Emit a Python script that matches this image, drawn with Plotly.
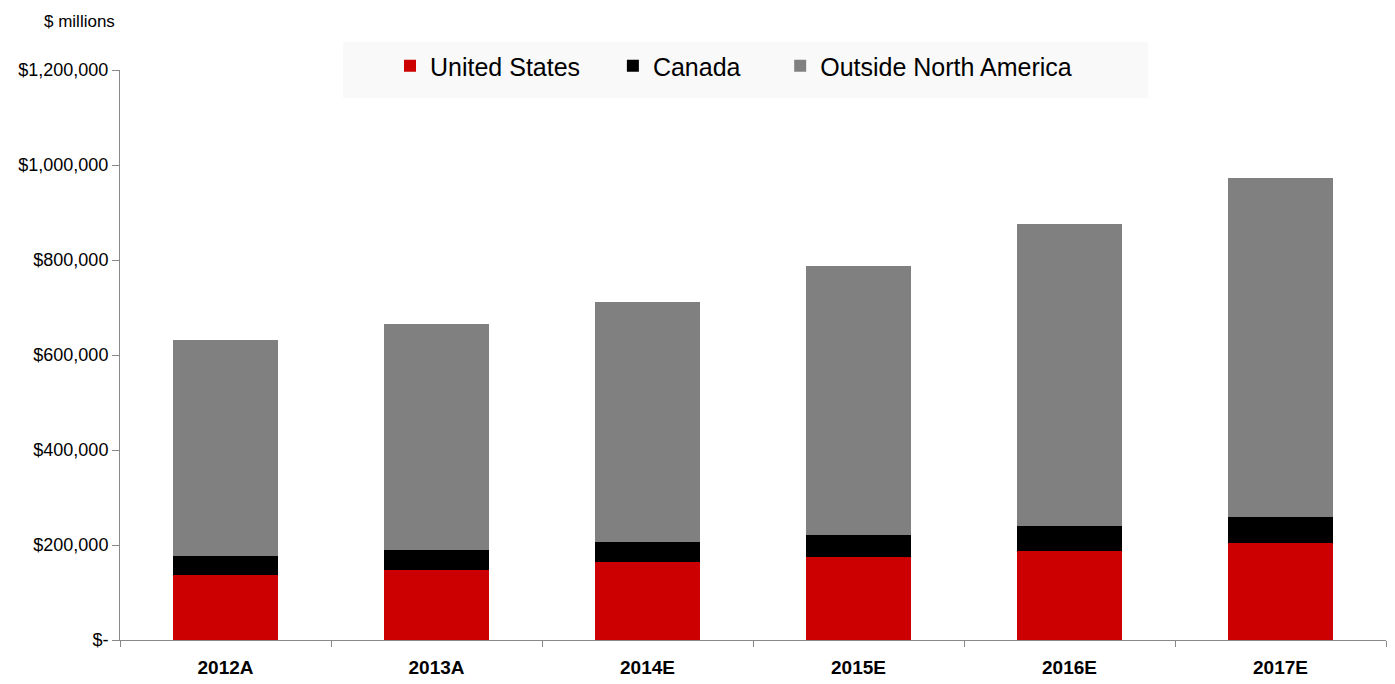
import plotly.graph_objects as go

categories = ["2012A", "2013A", "2014E", "2015E", "2016E", "2017E"]
united_states = [137000, 147000, 165000, 174000, 187000, 204000]
canada = [40000, 42000, 41000, 48000, 53000, 55000]
outside_na = [455000, 477000, 505000, 565000, 636000, 714000]
y_tickvals = [0, 200000, 400000, 600000, 800000, 1000000, 1200000]
y_ticktext = ["$-", "$200,000", "$400,000", "$600,000", "$800,000", "$1,000,000", "$1,200,000"]

# page body has an 8px margin, so the figure is placed at (8, 8) in the window
OFF = 8
W, H = 1395 - OFF, 684 - OFF
L, T = 120 - OFF, 70 - OFF
R = W - (1386 - OFF)
B = H - (640 - OFF)
PW, PH = W - L - R, H - T - B


def px_x(p):
    return (p - OFF - L) / PW


def px_y(p):
    return (H - B - (p - OFF)) / PH


fig = go.Figure()
fig.add_trace(go.Bar(x=categories, y=united_states, name="United States    ", marker=dict(color="#cc0000", line=dict(width=0))))
fig.add_trace(go.Bar(x=categories, y=canada, name="Canada     ", marker=dict(color="#000000", line=dict(width=0))))
fig.add_trace(go.Bar(x=categories, y=outside_na, name="Outside North America", marker=dict(color="#808080", line=dict(width=0))))

fig.update_layout(
    barmode="stack",
    bargap=0.5,
    width=W, height=H,
    margin=dict(l=L, r=R, t=T, b=B, autoexpand=False),
    paper_bgcolor="white", plot_bgcolor="white",
    font=dict(family="Liberation Sans, Arial, sans-serif", color="#000000", size=16),
    showlegend=True,
    legend=dict(
        orientation="h", x=px_x(390), xanchor="left", y=px_y(66), yanchor="middle",
        bgcolor="rgba(0,0,0,0)", font=dict(size=25), traceorder="normal",
        itemwidth=30,
    ),
    shapes=[dict(type="rect", xref="paper", yref="paper",
                 x0=px_x(343), x1=px_x(1148), y0=px_y(98), y1=px_y(42),
                 fillcolor="#f9f9f9", line=dict(width=0), layer="below")],
    annotations=[dict(text="$ millions", xref="paper", yref="paper", x=px_x(79), y=px_y(22),
                      xanchor="center", yanchor="middle", showarrow=False, font=dict(size=17))],
)
fig.update_xaxes(
    showline=True, linecolor="#888888", linewidth=1,
    ticks="outside", tickson="boundaries", ticklen=6, tickcolor="#888888",
    tickfont=dict(size=19, family="Liberation Sans, Arial, sans-serif"),
    tickprefix="<b>", ticksuffix="</b>", ticklabelstandoff=10,
    showgrid=False, automargin=False,
)
fig.update_yaxes(
    range=[0, 1200000], tickvals=y_tickvals, ticktext=y_ticktext,
    showline=True, linecolor="#888888", linewidth=1,
    ticks="outside", ticklen=7, tickcolor="#888888",
    showgrid=False, zeroline=False, tickfont=dict(size=18), automargin=False,
)
fig.write_html("out.html")
